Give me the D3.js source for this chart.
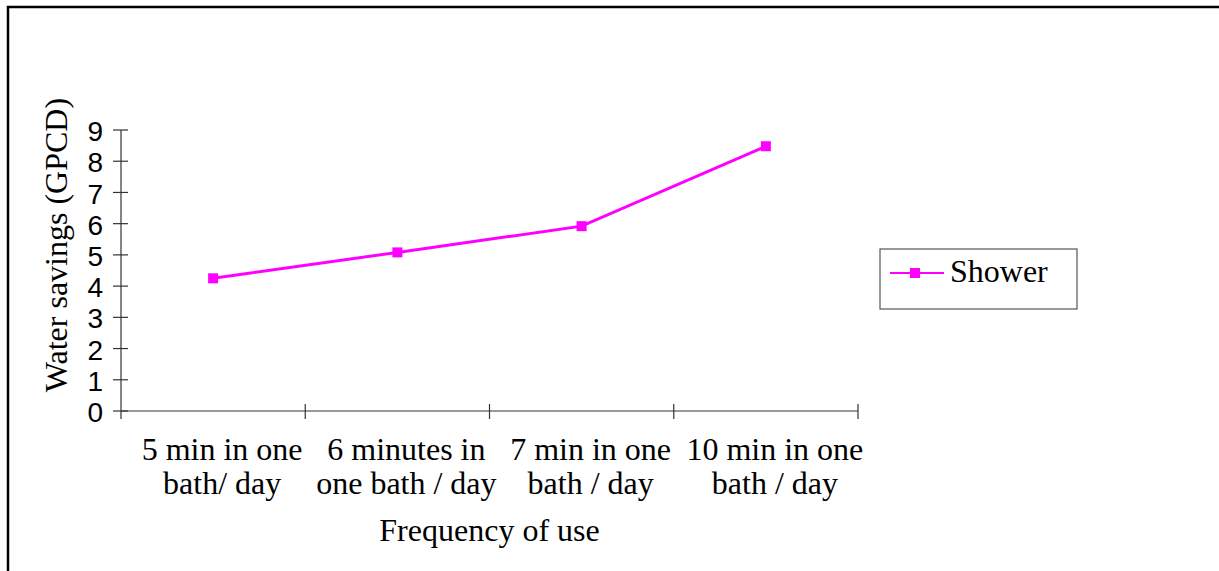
<!DOCTYPE html>
<html>
<head>
<meta charset="utf-8">
<script src="https://cdn.jsdelivr.net/npm/d3@7"></script>
<style>
  html, body { margin: 0; padding: 0; background: #fff; }
  svg { display: block; }
</style>
</head>
<body>
<svg id="chart" width="1219" height="571"></svg>
<script>
// Shower water savings by bath duration
const categories = [
  ["5 min in one", "bath/ day"],
  ["6 minutes in", "one bath / day"],
  ["7 min in one", "bath / day"],
  ["10 min in one", "bath / day"]
];
const showerValues = [4.25, 5.08, 5.92, 8.48];
const yTicks = [0, 1, 2, 3, 4, 5, 6, 7, 8, 9];
const seriesName = "Shower";
const xTitle = "Frequency of use";
const yTitle = "Water savings (GPCD)";

const svg = d3.select("#chart");
const serif = "'Liberation Serif', 'Times New Roman', serif";
const sans = "'Liberation Sans', Arial, sans-serif";
const magenta = "#ff00ff";
const axisColor = "#333";

// outer frame (runs off the right and bottom edges)
svg.append("rect")
  .attr("x", 8).attr("y", 7)
  .attr("width", 1240).attr("height", 600)
  .attr("fill", "none").attr("stroke", "#000").attr("stroke-width", 2.5);

const plot = { left: 121, right: 858, top: 130, bottom: 411 };

const x = d3.scaleBand()
  .domain(d3.range(categories.length))
  .range([plot.left, plot.right])
  .paddingInner(0).paddingOuter(0);

const y = d3.scaleLinear().domain([0, 9]).range([plot.bottom, plot.top]);

// y axis
const yAxis = svg.append("g").attr("transform", `translate(${plot.left},0)`);
yAxis.append("line")
  .attr("y1", y(0)).attr("y2", y(9))
  .attr("stroke", axisColor).attr("stroke-width", 1.2);
yAxis.selectAll("line.tick").data(yTicks).join("line")
  .attr("class", "tick")
  .attr("x1", -8).attr("x2", 7)
  .attr("y1", d => y(d)).attr("y2", d => y(d))
  .attr("stroke", axisColor).attr("stroke-width", 1.2);
yAxis.selectAll("text").data(yTicks).join("text")
  .attr("x", -18).attr("y", d => y(d) + 1)
  .attr("dy", "0.36em")
  .attr("text-anchor", "end")
  .attr("font-family", sans).attr("font-size", 28)
  .attr("fill", "#000")
  .text(d => d);

// x axis
const xAxis = svg.append("g");
xAxis.append("line")
  .attr("x1", plot.left).attr("x2", plot.right)
  .attr("y1", y(0)).attr("y2", y(0))
  .attr("stroke", axisColor).attr("stroke-width", 1.2);
const bounds = d3.range(categories.length + 1).map(i =>
  i < categories.length ? x(i) : x(categories.length - 1) + x.bandwidth());
xAxis.selectAll("line.tick").data(bounds.slice(1)).join("line")
  .attr("class", "tick")
  .attr("x1", d => d).attr("x2", d => d)
  .attr("y1", y(0) - 7).attr("y2", y(0) + 8)
  .attr("stroke", axisColor).attr("stroke-width", 1.2);
xAxis.append("line")
  .attr("x1", plot.left).attr("x2", plot.left)
  .attr("y1", y(0)).attr("y2", y(0) + 8)
  .attr("stroke", axisColor).attr("stroke-width", 1.2);

// category labels sit slightly right of the band centres
const catLabels = xAxis.selectAll("text").data(categories).join("text")
  .attr("text-anchor", "middle")
  .attr("font-family", serif).attr("font-size", 32)
  .attr("fill", "#000");
catLabels.each(function(d, i) {
  const t = d3.select(this);
  d.forEach((line, k) => {
    t.append("tspan")
      .attr("x", x(i) + x.bandwidth() / 2 + 9)
      .attr("y", 460 + k * 34)
      .text(line);
  });
});

// axis titles
svg.append("text")
  .attr("x", (plot.left + plot.right) / 2).attr("y", 541)
  .attr("text-anchor", "middle")
  .attr("font-family", serif).attr("font-size", 32)
  .text(xTitle);
svg.append("text")
  .attr("transform", "translate(67,245) rotate(-90)")
  .attr("text-anchor", "middle")
  .attr("font-family", serif).attr("font-size", 32)
  .text(yTitle);

// series line
const cx = i => x(i) + x.bandwidth() / 2;
const line = d3.line().x((d, i) => cx(i)).y(d => y(d));
svg.append("path")
  .datum(showerValues)
  .attr("d", line)
  .attr("fill", "none").attr("stroke", magenta).attr("stroke-width", 3);
svg.selectAll("rect.marker").data(showerValues).join("rect")
  .attr("class", "marker")
  .attr("x", (d, i) => cx(i) - 5).attr("y", d => y(d) - 5)
  .attr("width", 10).attr("height", 10)
  .attr("fill", magenta);

// legend
const legend = svg.append("g").attr("transform", "translate(880,249)");
legend.append("rect")
  .attr("width", 197).attr("height", 60)
  .attr("fill", "#fff").attr("stroke", "#555").attr("stroke-width", 1.2);
legend.append("line")
  .attr("x1", 10).attr("x2", 64).attr("y1", 24).attr("y2", 24)
  .attr("stroke", magenta).attr("stroke-width", 2);
legend.append("rect")
  .attr("x", 30).attr("y", 19).attr("width", 10).attr("height", 10)
  .attr("fill", magenta);
legend.append("text")
  .attr("x", 70).attr("y", 33)
  .attr("font-family", serif).attr("font-size", 32)
  .text(seriesName);
</script>
</body>
</html>
